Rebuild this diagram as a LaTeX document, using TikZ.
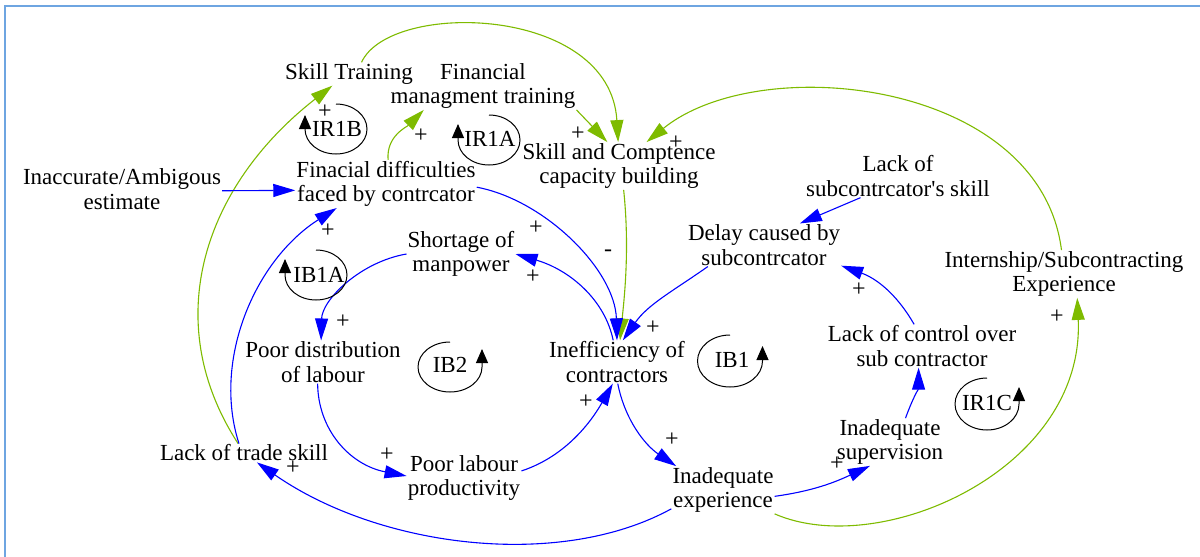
\documentclass[tikz,border=0pt]{standalone}
\usepackage{fontspec}
\setmainfont{Liberation Serif}
\usetikzlibrary{arrows.meta}
\definecolor{linkblue}{RGB}{0,0,255}
\definecolor{linkgreen}{RGB}{126,187,0}
\definecolor{frameblue}{RGB}{110,165,225}

\begin{document}
\begin{tikzpicture}[x=1pt,y=1pt]
	\tikzstyle{var}=[align=center,inner sep=1pt,font=\fontsize{23}{24.5}\selectfont]
	\tikzstyle{sign}=[inner sep=0pt,font=\fontsize{24}{24}\selectfont]
	\tikzstyle{looplabel}=[inner sep=0pt,font=\fontsize{23}{24}\selectfont]
	\tikzstyle{blue link}=[draw=linkblue,line width=1.1pt,-{Triangle[length=22pt,width=13pt]}]
	\tikzstyle{green link}=[draw=linkgreen,line width=1.1pt,-{Triangle[length=22pt,width=13pt]}]
	\tikzstyle{loopmark}=[black,line width=1pt,-{Triangle[length=14pt,width=12pt]}]
	\useasboundingbox (0,0) rectangle (1200,-557);
	\draw[frameblue,line width=1.6pt] (5,-557) -- (5,-6) -- (1200,-6);
	\node[var] (skilltrain) at (349,-74) {Skill Training};
	\node[var] (finmgmt) at (483,-86) {Financial\\managment training};
	\node[var] (skillcomp) at (619,-166) {Skill and Comptence\\capacity building};
	\node[var] (findiff) at (386,-184) {Finacial difficulties\\faced by contrcator};
	\node[var] (inaccurate) at (122,-189) {Inaccurate/Ambigous\\estimate};
	\node[var] (shortage) at (461,-254) {Shortage of\\manpower};
	\node[var] (lacksub) at (898,-176) {Lack of\\subcontrcator\textquotesingle s skill};
	\node[var] (delay) at (764,-245) {Delay caused by\\subcontrcator};
	\node[var] (intern) at (1064,-274) {Internship/Subcontracting\\Experience};
	\node[var] (poordist) at (323,-362) {Poor distribution\\of labour};
	\node[var] (ineff) at (617,-362) {Inefficiency of\\contractors};
	\node[var] (lackctrl) at (922,-346) {Lack of control over\\sub contractor};
	\node[var] (lacktrade) at (244,-453) {Lack of trade skill};
	\node[var] (poorprod) at (464,-478) {Poor labour\\productivity};
	\node[var] (inadexp) at (723,-490) {Inadequate\\experience};
	\node[var] (inadsup) at (890,-442) {Inadequate\\supervision};
	\draw[green link] (lacktrade.122) .. controls (158,-320) and (205,-185) .. (skilltrain.215);
	\draw[green link] (findiff.85) to[out=95,in=225] (finmgmt.202);
	\draw[green link] (skilltrain.43) .. controls (390,0) and (610,-5) .. (skillcomp.92);
	\draw[green link] (finmgmt.south east) -- (skillcomp.116);
	\draw[green link] (intern.96) .. controls (1040,-80) and (760,-50) .. (skillcomp.41);
	\draw[green link] (skillcomp.281) .. controls (630,-250) and (624,-300) .. (ineff.82);
	\draw[green link] (inadexp.south east) .. controls (880,-560) and (1085,-470) .. (intern.299);
	\draw[blue link] (inaccurate.359) -- (findiff.184);
	\draw[blue link] (lacktrade.118) .. controls (212,-360) and (255,-260) .. (findiff.206);
	\draw[blue link] (findiff.358) .. controls (545,-200) and (615,-270) .. (ineff.90);
	\draw[blue link] (ineff.100) .. controls (605,-300) and (570,-270) .. (shortage.east);
	\draw[blue link] (shortage.west) .. controls (360,-262) and (322,-300) .. (poordist.95);
	\draw[blue link] (poordist.256) .. controls (318,-430) and (350,-465) .. (poorprod.178);
	\draw[blue link] (poorprod.7) .. controls (570,-455) and (595,-415) .. (ineff.259);
	\draw[blue link] (ineff.272) .. controls (625,-420) and (645,-445) .. (inadexp.153);
	\draw[blue link] (inadexp.200) .. controls (560,-570) and (380,-548) .. (lacktrade.324);
	\draw[blue link] (inadexp.353) to[out=8,in=205] (inadsup.230);
	\draw[blue link] (inadsup.57) to[out=70,in=270] (lackctrl.261);
	\draw[blue link] (lackctrl.110) to[out=120,in=-20] (delay.-15);
	\draw[blue link] (delay.201) to[out=215,in=55] (ineff.75);
	\draw[blue link] (lacksub.210) -- (delay.31);
	\node[sign] (s1) at (325,-112) {+};
	\node[sign] (s2) at (421,-136) {+};
	\node[sign] (s3) at (578,-134) {+};
	\node[sign] (s4) at (676,-143) {+};
	\node[sign] (s5) at (328,-231) {+};
	\node[sign] (s6) at (536,-228) {+};
	\node[sign] (s7) at (533,-277) {+};
	\node[sign] (s8) at (608,-253) {-};
	\node[sign] (s9) at (343,-322) {+};
	\node[sign] (s10) at (653,-328) {+};
	\node[sign] (s11) at (586,-402) {+};
	\node[sign] (s12) at (672,-440) {+};
	\node[sign] (s13) at (387,-455) {+};
	\node[sign] (s14) at (293,-468) {+};
	\node[sign] (s15) at (837,-464) {+};
	\node[sign] (s16) at (859,-290) {+};
	\node[sign] (s17) at (1057,-317) {+};
	\draw[loopmark] (336,-104) arc[start angle=90,end angle=-180,x radius=31,y radius=25] -- ++(0,14);
	\node[looplabel] (ir1b) at (337,-129) {IR1B};
	\draw[loopmark] (489,-115) arc[start angle=90,end angle=-180,x radius=31,y radius=25] -- ++(0,16);
	\node[looplabel] (ir1a) at (490,-139) {IR1A};
	\draw[loopmark] (316,-250) arc[start angle=90,end angle=-180,x radius=31,y radius=25] -- ++(0,16);
	\node[looplabel] (ib1a) at (319,-275) {IB1A};
	\draw[loopmark] (450,-342) arc[start angle=90,end angle=360,x radius=32,y radius=25] -- ++(0,18);
	\node[looplabel] (ib2) at (450,-365) {IB2};
	\draw[loopmark] (730,-335) arc[start angle=90,end angle=360,x radius=32.5,y radius=26] -- ++(0,15);
	\node[looplabel] (ib1) at (732,-360) {IB1};
	\draw[loopmark] (987,-378) arc[start angle=90,end angle=360,x radius=32,y radius=26] -- ++(0,17);
	\node[looplabel] (ir1c) at (987,-403) {IR1C};
\end{tikzpicture}
\end{document}
